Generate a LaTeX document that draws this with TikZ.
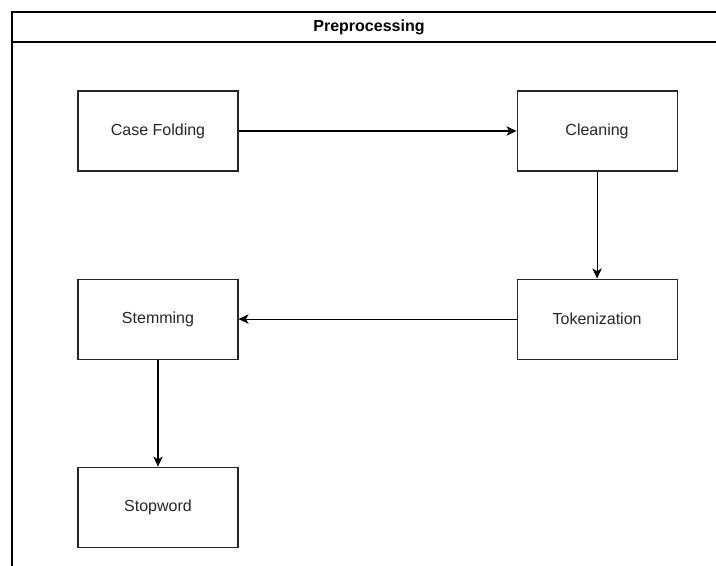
\documentclass[tikz,border=0pt]{standalone}
\usepackage{fontspec}
\setmainfont{Liberation Sans}
\usetikzlibrary{positioning,arrows.meta}

\tikzset{
    stagebox/.style={draw=black!85, line width=0.8pt, minimum width=120pt, minimum height=60pt,
        inner sep=0pt, font=\fontsize{12}{14}\selectfont, text=black!85},
    flowarrow/.style={-{Stealth[length=7.5pt,width=7pt,inset=2pt]}, line width=0.8pt}
}

\begin{document}
\begin{tikzpicture}[x=0.75pt, y=-0.75pt]
    % Canvas
    \useasboundingbox (0,0) rectangle (716,565);
    \clip (0,0) rectangle (716,565);

    % Swimlane frame and title bar
    \draw[line width=0.8pt] (12,590) -- (12,12) -- (740,12) -- (740,590);
    \draw[line width=0.8pt] (12,42) -- (740,42);
    \node[font=\bfseries\fontsize{12}{14}\selectfont] (title) at (369,27) {Preprocessing};

    % Stages
    \node[stagebox] (casefold) at (158,131) {Case Folding};
    \node[stagebox, right=208.5pt of casefold] (cleaning) {Cleaning};
    \node[stagebox, below=80.25pt of cleaning] (tokenize) {Tokenization};
    \node[stagebox, left=208.5pt of tokenize] (stemming) {Stemming};
    \node[stagebox, below=80.25pt of stemming] (stopword) {Stopword};

    % Flow
    \draw[flowarrow] (casefold) -- (cleaning);
    \draw[flowarrow] (cleaning) -- (tokenize);
    \draw[flowarrow] (tokenize) -- (stemming);
    \draw[flowarrow] (stemming) -- (stopword);
\end{tikzpicture}
\end{document}
